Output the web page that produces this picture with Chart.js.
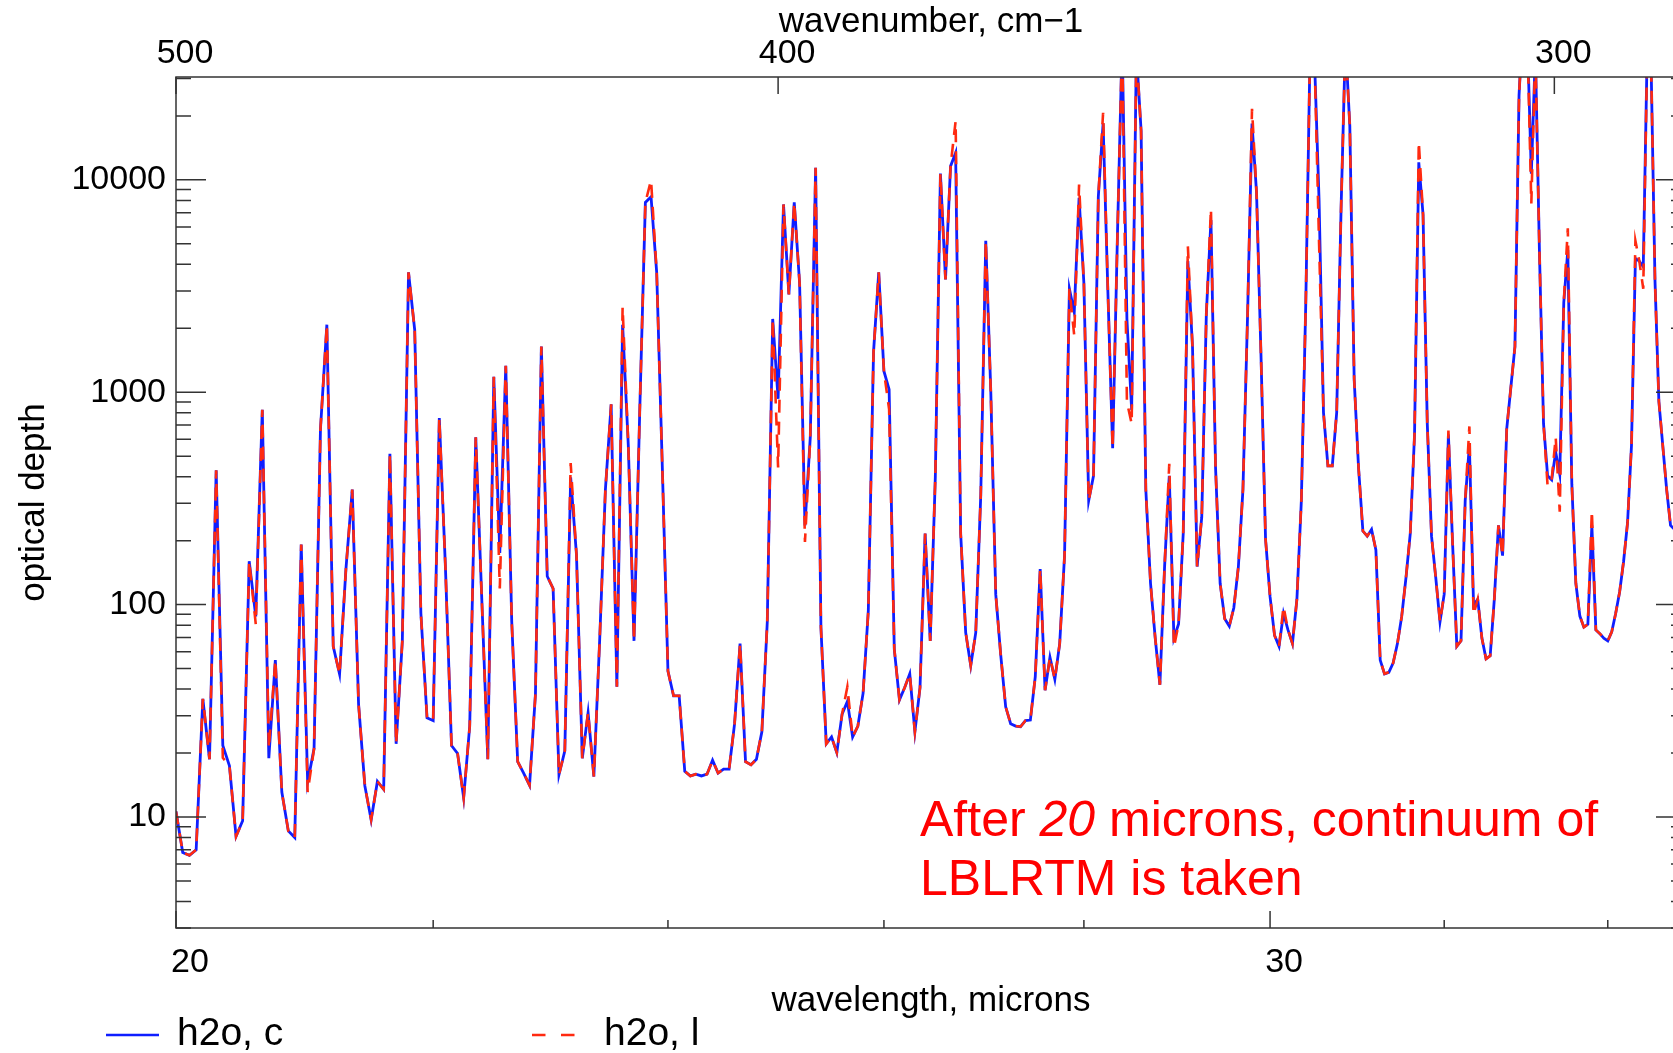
<!DOCTYPE html>
<html>
<head>
<meta charset="utf-8">
<title>h2o optical depth</title>
<script src="https://cdn.jsdelivr.net/npm/chart.js@4.4.1/dist/chart.umd.min.js"></script>
<style>
    html, body { margin: 0; padding: 0; background: #fff; overflow: hidden; }
    #wrap { width: 1673px; height: 1053px; overflow: hidden; }
    canvas { display: block; }
</style>
</head>
<body>
<div id="wrap"><canvas id="depthChart" width="1700" height="1053"></canvas></div>
<script>
// --- 1. DATA ---
// wavelength grid, microns
const wavelength = [
    20.00, 20.05, 20.10, 20.15, 20.20, 20.25, 20.30, 20.35, 20.40, 20.45,
    20.50, 20.55, 20.60, 20.65, 20.70, 20.75, 20.80, 20.85, 20.90, 20.95,
    21.00, 21.05, 21.10, 21.15, 21.20, 21.25, 21.30, 21.35, 21.40, 21.45,
    21.50, 21.55, 21.60, 21.65, 21.70, 21.75, 21.80, 21.85, 21.90, 21.95,
    22.00, 22.05, 22.10, 22.15, 22.20, 22.25, 22.30, 22.35, 22.40, 22.45,
    22.50, 22.55, 22.60, 22.65, 22.70, 22.75, 22.80, 22.85, 22.90, 22.95,
    23.00, 23.05, 23.10, 23.15, 23.20, 23.25, 23.30, 23.35, 23.40, 23.45,
    23.50, 23.55, 23.60, 23.65, 23.70, 23.75, 23.80, 23.85, 23.90, 23.95,
    24.00, 24.05, 24.10, 24.15, 24.20, 24.25, 24.30, 24.35, 24.40, 24.45,
    24.50, 24.55, 24.60, 24.65, 24.70, 24.75, 24.80, 24.85, 24.90, 24.95,
    25.00, 25.05, 25.10, 25.15, 25.20, 25.25, 25.30, 25.35, 25.40, 25.45,
    25.50, 25.55, 25.60, 25.65, 25.70, 25.75, 25.80, 25.85, 25.90, 25.95,
    26.00, 26.05, 26.10, 26.15, 26.20, 26.25, 26.30, 26.35, 26.40, 26.45,
    26.50, 26.55, 26.60, 26.65, 26.70, 26.75, 26.80, 26.85, 26.90, 26.95,
    27.00, 27.05, 27.10, 27.15, 27.20, 27.25, 27.30, 27.35, 27.40, 27.45,
    27.50, 27.55, 27.60, 27.65, 27.70, 27.75, 27.80, 27.85, 27.90, 27.95,
    28.00, 28.05, 28.10, 28.15, 28.20, 28.25, 28.30, 28.35, 28.40, 28.45,
    28.50, 28.55, 28.60, 28.65, 28.70, 28.75, 28.80, 28.85, 28.90, 28.95,
    29.00, 29.05, 29.10, 29.15, 29.20, 29.25, 29.30, 29.35, 29.40, 29.45,
    29.50, 29.55, 29.60, 29.65, 29.70, 29.75, 29.80, 29.85, 29.90, 29.95,
    30.00, 30.05, 30.10, 30.15, 30.20, 30.25, 30.30, 30.35, 30.40, 30.45,
    30.50, 30.55, 30.60, 30.65, 30.70, 30.75, 30.80, 30.85, 30.90, 30.95,
    31.00, 31.05, 31.10, 31.15, 31.20, 31.25, 31.30, 31.35, 31.40, 31.45,
    31.50, 31.55, 31.60, 31.65, 31.70, 31.75, 31.80, 31.85, 31.90, 31.95,
    32.00, 32.05, 32.10, 32.15, 32.20, 32.25, 32.30, 32.35, 32.40, 32.45,
    32.50, 32.55, 32.60, 32.65, 32.70, 32.75, 32.80, 32.85, 32.90, 32.95,
    33.00, 33.05, 33.10, 33.15, 33.20, 33.25, 33.30, 33.35, 33.40, 33.45,
    33.50, 33.55, 33.60, 33.65, 33.70, 33.75, 33.80, 33.85, 33.90, 33.95,
    34.00, 34.05, 34.10, 34.15, 34.20, 34.25, 34.30, 34.35, 34.40, 34.45,
    34.50, 34.55, 34.60, 34.65, 34.70, 34.75, 34.80, 34.85, 34.90, 34.95,
    35.00
];

// optical depth, "h2o, c" (solid blue)
const depthC = [
    10.6, 6.8, 6.6, 7.0, 36, 18.7, 429, 21.7, 17.4, 8.1,
    9.6, 160, 88, 826, 18.9, 54.8, 13.1, 8.6, 8.0, 192,
    14.6, 21, 671, 2080, 63.6, 47, 147, 348, 34, 14,
    9.7, 14.7, 13.5, 513, 22.1, 67.5, 3670, 1963, 91, 29.3,
    28.4, 755, 151, 21.7, 19.9, 12.3, 26.8, 613, 106, 18.7,
    1183, 175, 1332, 83, 18.2, 16.1, 14.1, 38, 1640, 136,
    119, 15.8, 20.5, 397, 172, 18.9, 31, 15.5, 67.5, 348,
    877, 41, 2080, 561, 67.5, 801, 7830, 8320, 3670, 442,
    48.6, 37.2, 37.2, 16.4, 15.6, 15.9, 15.6, 15.9, 18.5, 16.1,
    16.8, 16.8, 27.5, 65.5, 18.2, 17.6, 18.7, 25.2, 83, 2213,
    931, 7660, 2890, 7830, 3260, 236, 614, 11400, 78, 22.1,
    23.8, 20.1, 30.5, 35, 23.8, 26.8, 38.3, 93.7, 1545, 3670,
    1256, 1030, 61.7, 35.6, 40.6, 47.2, 25.2, 40.6, 216, 67.5,
    400, 10700, 3400, 11600, 13400, 216, 73.8, 51.6, 73.8, 328,
    5160, 1019, 112, 58, 33, 27.5, 26.8, 26.6, 28.4, 28.6,
    45.8, 147, 39.5, 56.5, 44.5, 65.5, 170, 3070, 2380, 8220,
    3260, 309, 404, 8320, 18400, 2980, 545, 5410, 45000, 2213,
    826, 40000, 17000, 348, 126, 69.5, 41.9, 151, 404, 69.5,
    81, 216, 4140, 1640, 151, 258, 2350, 6470, 442, 126,
    85.7, 79.2, 96.6, 151, 348, 2213, 18400, 8730, 1456, 203,
    109, 71.6, 63.6, 91, 76, 65.5, 106, 309, 2650, 45000,
    35000, 8000, 802, 450, 450, 802, 7300, 45000, 17900, 1150,
    442, 222, 210, 226, 181, 54.8, 47.2, 48, 53, 65.5,
    88, 134, 216, 630, 12100, 6870, 711, 210, 134, 83,
    112, 632, 192, 63.6, 67.5, 309, 561, 99.5, 106, 69.5,
    55.5, 57.4, 106, 236, 170, 671, 1050, 1640, 25000, 60000,
    50000, 10700, 40000, 4530, 711, 404, 387, 522, 411, 2650,
    4670, 369, 126, 88.3, 78.3, 80.7, 236, 76, 73, 69.5,
    67.5, 74.5, 91, 115, 160, 243, 561, 4270, 4140, 3900,
    40000, 35000, 3360, 904, 561, 348, 236, 226, 210, 200,
    190
];

// optical depth, "h2o, l" (dashed red)
const depthL = [
    10.6, 6.8, 6.6, 7.0, 36, 18.7, 429, 19, 17.4, 8.1,
    9.6, 160, 81, 826, 21, 54.8, 13.1, 8.6, 8.0, 192,
    13.1, 21, 671, 2080, 63.6, 47, 147, 348, 34, 14,
    9.7, 14.7, 13.5, 513, 22.1, 67.5, 3670, 1963, 91, 29.3,
    28.4, 755, 151, 21.7, 19.9, 12.3, 26.8, 613, 106, 18.7,
    1183, 119, 1332, 83, 18.2, 16.1, 14.1, 38, 1640, 136,
    119, 15.8, 20.5, 464, 172, 18.9, 31, 15.5, 67.5, 348,
    877, 41, 2520, 561, 67.5, 801, 7830, 9960, 3670, 442,
    48.6, 37.2, 37.2, 16.4, 15.6, 15.9, 15.6, 15.9, 18.5, 16.1,
    16.8, 16.8, 27.5, 65.5, 18.2, 17.6, 18.7, 25.2, 83, 2213,
    442, 7660, 2890, 7830, 3260, 197, 614, 11400, 78, 22.1,
    23.8, 20.1, 30.5, 41, 23.8, 26.8, 38.3, 93.7, 1545, 3670,
    1256, 830, 61.7, 35.6, 40.6, 47.2, 25.2, 40.6, 216, 67.5,
    400, 10700, 3400, 11600, 18900, 216, 73.8, 51.6, 73.8, 328,
    5160, 1019, 112, 58, 33, 27.5, 26.8, 26.6, 28.4, 28.6,
    45.8, 147, 39.5, 56.5, 44.5, 65.5, 170, 3070, 1850, 9500,
    3260, 309, 404, 8320, 20700, 2980, 545, 5410, 45000, 900,
    711, 40000, 17000, 348, 126, 69.5, 41.9, 151, 460, 63,
    81, 216, 4860, 1640, 151, 258, 2350, 7300, 442, 126,
    85.7, 79.2, 96.6, 151, 348, 2213, 21600, 8730, 1456, 203,
    109, 71.6, 63.6, 98, 76, 65.5, 106, 309, 2650, 45000,
    35000, 5000, 802, 450, 450, 802, 7300, 45000, 17900, 1150,
    442, 222, 210, 226, 181, 54.8, 47.2, 48, 53, 65.5,
    88, 134, 216, 630, 15100, 6870, 711, 210, 134, 83,
    112, 660, 192, 63.6, 67.5, 309, 690, 90, 106, 69.5,
    55.5, 57.4, 106, 236, 170, 671, 1050, 1640, 25000, 60000,
    50000, 7740, 40000, 4530, 711, 362, 387, 614, 274, 2650,
    5920, 369, 126, 88.3, 78.3, 80.7, 277, 76, 73, 69.5,
    67.5, 74.5, 91, 115, 160, 243, 561, 5160, 4140, 3070,
    40000, 35000, 3360, 904, 561, 348, 236, 226, 210, 200,
    190
];

// axis ticks
const wavelengthTicks = [20, 22, 24, 26, 28, 30, 32, 34];
const wavelengthLabels = [20, 30];
const wavenumberTicks = [500, 400, 300];
const wavenumberLabels = ['500', '400', '300'];
const depthLabels = [10, 100, 1000, 10000];

const seriesNames = ['h2o, c', 'h2o, l'];
const noteLines = [['After ', '20', ' microns, continuum of'], ['LBLRTM is taken']];

// --- 2. STYLE ---
const FONT = "'Liberation Sans', Arial, Helvetica, sans-serif";
const BLUE = '#0f1eff';
const RED = '#ff2a10';
const X_MIN = 20, X_MAX = 35, Y_MIN = 3, Y_MAX = 30500;

Chart.defaults.font.family = FONT;
Chart.defaults.color = '#000';

const toPoints = (ys) => wavelength.map((w, i) => ({ x: w, y: ys[i] }));

// minor + major ticks for the log depth axis
function depthTickValues() {
    const out = [];
    [1, 10, 100, 1000, 10000].forEach(dec => {
        for (let m = 1; m <= 9; m++) {
            const v = m * dec;
            if (v >= Y_MIN && v <= Y_MAX) out.push(v);
        }
    });
    return out;
}

// --- 3. PLUGINS ---
// IDL-like box with inward ticks
const frameTicks = {
    id: 'frameTicks',
    afterDatasetsDraw(chart) {
        const { ctx, chartArea: a, scales } = chart;
        ctx.save();
        ctx.strokeStyle = '#333';
        ctx.lineWidth = 1.5;
        ctx.strokeRect(a.left, a.top, a.right - a.left, a.bottom - a.top);

        ctx.beginPath();
        scales.y.ticks.forEach(t => {
            const py = scales.y.getPixelForValue(t.value);
            const len = depthLabels.includes(t.value) ? 30 : 15;
            ctx.moveTo(a.left, py); ctx.lineTo(a.left + len, py);
            ctx.moveTo(a.right, py); ctx.lineTo(a.right - len, py);
        });
        scales.x.ticks.forEach(t => {
            const px = scales.x.getPixelForValue(t.value);
            const len = wavelengthLabels.includes(t.value) ? 17 : 8;
            ctx.moveTo(px, a.bottom); ctx.lineTo(px, a.bottom - len);
        });
        scales.xTop.ticks.forEach(t => {
            const px = scales.xTop.getPixelForValue(t.value);
            ctx.moveTo(px, a.top); ctx.lineTo(px, a.top + 17);
        });
        ctx.stroke();
        ctx.restore();
    }
};

// red note, anchored in data coordinates
const noteText = {
    id: 'noteText',
    afterDraw(chart) {
        const { ctx, scales } = chart;
        const x0 = scales.x.getPixelForValue(26.35);
        const baselines = [scales.y.getPixelForValue(8.1), scales.y.getPixelForValue(4.3)];
        ctx.save();
        ctx.fillStyle = '#ff0000';
        ctx.textBaseline = 'alphabetic';
        noteLines.forEach((parts, li) => {
            let x = x0;
            parts.forEach((txt, pi) => {
                ctx.font = (li === 0 && pi === 1 ? 'italic ' : '') + '50px ' + FONT;
                ctx.fillText(txt, x, baselines[li]);
                x += ctx.measureText(txt).width;
            });
        });
        ctx.restore();
    }
};

// legend under the plot, left aligned
const bottomLegend = {
    id: 'bottomLegend',
    afterDraw(chart) {
        const { ctx } = chart;
        const slots = [{ x0: 106, x1: 159, tx: 177 }, { x0: 532, x1: 575, tx: 604 }];
        ctx.save();
        ctx.font = '39px ' + FONT;
        ctx.textBaseline = 'alphabetic';
        ctx.fillStyle = '#000';
        chart.data.datasets.forEach(ds => {
            const s = slots[ds.legendSlot];
            ctx.strokeStyle = ds.borderColor;
            ctx.lineWidth = 2.6;
            ctx.setLineDash(ds.borderDash && ds.borderDash.length ? [13.5, 15.5] : []);
            ctx.beginPath();
            ctx.moveTo(s.x0, 1035); ctx.lineTo(s.x1, 1035);
            ctx.stroke();
            ctx.setLineDash([]);
            ctx.fillText(ds.label, s.tx, 1045);
        });
        ctx.restore();
    }
};

// --- 4. CHART ---
const axisFont = { family: FONT, size: 34 };
const titleFont = { family: FONT, size: 35 };

new Chart(document.getElementById('depthChart'), {
    type: 'line',
    data: {
        datasets: [
            {
                label: seriesNames[1], data: toPoints(depthL), legendSlot: 1, order: 0,
                borderColor: RED, borderWidth: 2.6, borderDash: [13, 9],
                pointRadius: 0, tension: 0, fill: false
            },
            {
                label: seriesNames[0], data: toPoints(depthC), legendSlot: 0, order: 1,
                borderColor: BLUE, borderWidth: 2.8,
                pointRadius: 0, tension: 0, fill: false
            }
        ]
    },
    options: {
        responsive: false,
        animation: false,
        devicePixelRatio: 1,
        layout: { padding: { left: 0, right: 14, top: 0, bottom: 0 } },
        plugins: { legend: { display: false }, tooltip: { enabled: false } },
        scales: {
            x: {
                type: 'logarithmic', position: 'bottom', min: X_MIN, max: X_MAX,
                grid: { display: false, drawTicks: false }, border: { display: false },
                afterBuildTicks: s => { s.ticks = wavelengthTicks.map(v => ({ value: v })); },
                afterFit: s => { s.height = 125; },
                ticks: {
                    autoSkip: false, maxRotation: 0, padding: 14, labelOffset: 14,
                    font: axisFont, color: '#000',
                    callback: v => wavelengthLabels.includes(v) ? String(v) : ''
                },
                title: { display: true, text: 'wavelength, microns', font: titleFont, color: '#000', padding: { top: 0, bottom: 31 } }
            },
            xTop: {
                type: 'logarithmic', position: 'top', min: X_MIN, max: X_MAX,
                grid: { display: false, drawTicks: false }, border: { display: false },
                afterBuildTicks: s => { s.ticks = wavenumberTicks.map(wn => ({ value: 1e4 / wn })); },
                afterFit: s => { s.height = 77; },
                ticks: {
                    autoSkip: false, maxRotation: 0, padding: 3, labelOffset: 9,
                    font: axisFont, color: '#000',
                    callback: (v, i) => wavenumberLabels[i]
                },
                title: { display: true, text: 'wavenumber, cm\u22121', font: titleFont, color: '#000', padding: { top: 1, bottom: 0 } }
            },
            y: {
                type: 'logarithmic', position: 'left', min: Y_MIN, max: Y_MAX,
                grid: { display: false, drawTicks: false }, border: { display: false },
                afterBuildTicks: s => { s.ticks = depthTickValues().map(v => ({ value: v })); },
                afterFit: s => { s.width = 176; },
                ticks: {
                    autoSkip: false, padding: 10, font: axisFont, color: '#000',
                    callback: v => depthLabels.includes(v) ? String(v) : ''
                },
                title: { display: true, text: 'optical depth', font: titleFont, color: '#000', padding: { top: 13, bottom: 0 } }
            }
        }
    },
    plugins: [frameTicks, noteText, bottomLegend]
});
</script>
</body>
</html>
